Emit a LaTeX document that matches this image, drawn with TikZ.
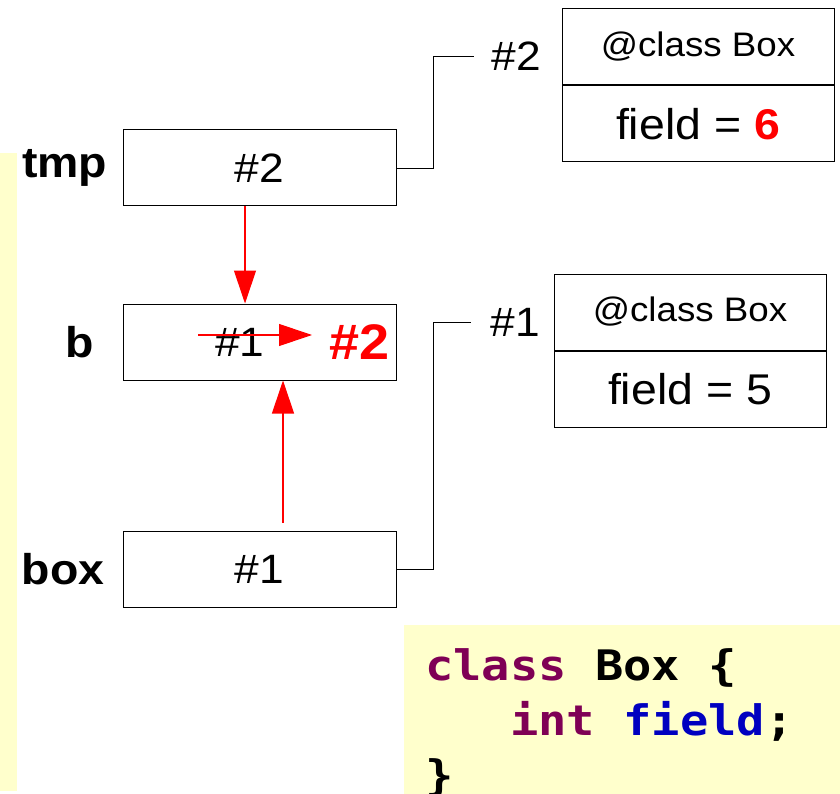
\documentclass[tikz,border=0pt]{standalone}
\usepackage{fontspec}
\setmainfont{Liberation Sans}[FakeStretch=1.08]
\newfontfamily\codefont{DejaVu Sans Mono}[FakeStretch=1.12]
\usetikzlibrary{positioning,arrows.meta}
\definecolor{noteYellow}{HTML}{FFFFCC}
\definecolor{keyPurple}{HTML}{7F0055}
\definecolor{fieldBlue}{HTML}{0000C0}
\definecolor{changeRed}{HTML}{FF0000}
\tikzset{
  varBox/.style={
    rectangle,
    draw=black,
    line width=1pt,
    minimum width=273pt,
    minimum height=76pt,
    inner sep=0pt,
    font=\fontsize{41}{45}\selectfont
 },
  varLabel/.style={
    inner sep=1pt,
    font=\fontsize{43}{48}\selectfont\bfseries
 },
  objHead/.style={
    rectangle,
    draw=black,
    line width=1pt,
    minimum width=272pt,
    minimum height=76pt,
    inner sep=0pt,
    font=\fontsize{34}{38}\selectfont
 },
  objBody/.style={
    rectangle,
    draw=black,
    line width=1pt,
    minimum width=272pt,
    minimum height=76pt,
    inner sep=0pt,
    font=\fontsize{43}{48}\selectfont
 },
  refText/.style={
    inner sep=1pt,
    font=\fontsize{41}{45}\selectfont
 },
  codeLine/.style={
    anchor=base west,
    inner sep=0pt,
    font=\codefont\bfseries\fontsize{42}{55}\selectfont
 },
  refLine/.style={
    line width=0.9pt,
    color=black
 },
  redArrow/.style={
    -{Triangle[length=33pt,width=22pt]},
    line width=1.1pt,
    color=changeRed
 }
}
\begin{document}
\begin{tikzpicture}[x=1pt,y=-1pt]
  \useasboundingbox (0,0) rectangle (840,794);

  % yellow backgrounds
  \fill[noteYellow] (0,153) rectangle (17,791);
  \fill[noteYellow] (404,625) rectangle (840,794);

  % variables
  \node[varBox] (tmpBox) at (259.5,168) {\#2};
  \node[varBox] (bBox) at (259.5,342) {};
  \node[varBox] (boxBox) at (259.5,569) {\#1};

  \node[varLabel, left=14pt of tmpBox] (tmpLbl) {tmp};
  \node[varLabel, left=27pt of bBox] (bLbl) {b};
  \node[varLabel, left=17pt of boxBox] (boxLbl) {box};

  % old and new reference in b
  \node[refText] (oldRef) at (240,342) {\#1};
  \node[refText, font=\fontsize{50}{54}\selectfont\bfseries, text=changeRed] (newRef) at (360,342) {\#2};
  \coordinate (strikeStart) at (198,335);
  \coordinate (strikeEnd) at (312,335);
  \draw[redArrow] (strikeStart) -- (strikeEnd);

  % objects on the heap
  \node[objHead] (twoHead) at (698,47) {@class Box};
  \node[objBody, below=0pt of twoHead] (twoBody) {field = \textcolor{changeRed}{\bfseries 6}};
  \node[refText] (twoLbl) at (516,56) {\#2};

  \node[objHead] (oneHead) at (690,312) {@class Box};
  \node[objBody, below=0pt of oneHead] (oneBody) {field = 5};
  \node[refText] (oneLbl) at (515,322) {\#1};

  % references
  \draw[refLine] (tmpBox.east) -- ++(37,0) |- ([xshift=-16pt]twoLbl.west);
  \draw[refLine] (boxBox.east) -- ++(37,0) |- ([xshift=-18pt]oneLbl.west);

  \draw[redArrow] ([xshift=-14.5pt]tmpBox.south) -- ([xshift=-14.5pt]bBox.north);
  \draw[redArrow] ([xshift=23.5pt,yshift=8pt]boxBox.north) -- ([xshift=23.5pt]bBox.south);

  % code
  \node[codeLine] (codeA) at (425,680) {\textcolor{keyPurple}{class} Box \{};
  \node[codeLine] (codeB) at (425,735) {\phantom{cla}\textcolor{keyPurple}{int} \textcolor{fieldBlue}{field};};
  \node[codeLine] (codeC) at (425,790) {\}};
\end{tikzpicture}
\end{document}
